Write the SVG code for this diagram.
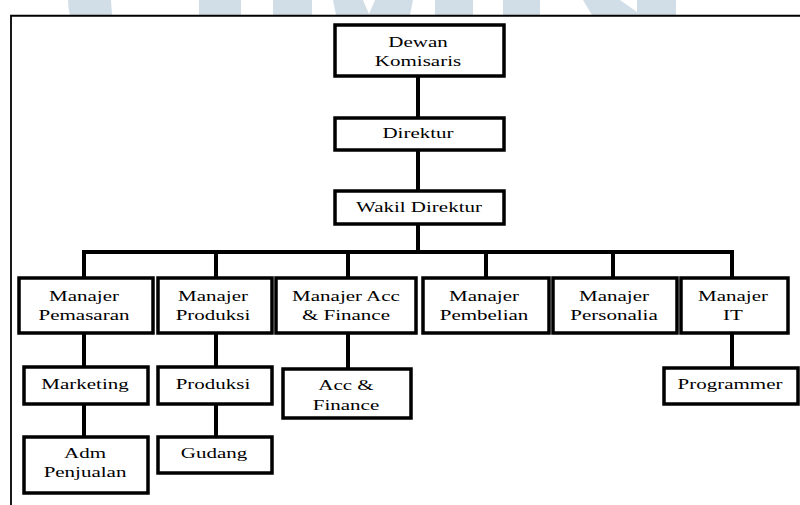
<svg xmlns="http://www.w3.org/2000/svg" width="800" height="505" viewBox="0 0 800 505">
<style>
.wm{fill:#d2dee7;stroke:none}
.box{fill:#ffffff;stroke:#000;stroke-width:3.5}
.t{font-size:15px;fill:#000;text-anchor:middle}
.con{stroke:#000;stroke-width:4;fill:none}
</style>
<rect x="0" y="0" width="800" height="505" fill="#ffffff"/>
<g id="watermark">
<path class="wm" d="M68,0 L111,0 L112,15 L70,15 Q68,8 68,0 Z"/>
<rect class="wm" x="199" y="0" width="42" height="15"/>
<rect class="wm" x="273" y="0" width="39" height="15"/>
<polygon class="wm" points="333,0 363,0 369,14 375,0 413,0 410,15 336,15"/>
<rect class="wm" x="435" y="0" width="38" height="15"/>
<rect class="wm" x="503" y="0" width="37" height="15"/>
<polygon class="wm" points="583,0 620,0 637,12 637,0 676,0 676,15 592,15"/>
</g>
<g id="frame">
<rect x="11" y="16" width="800" height="500" fill="#ffffff" stroke="none"/>
<path d="M11,505 L11,15.75 L800,15.75" fill="none" stroke="#000" stroke-width="1.8"/>
</g>
<g id="connectors">
<path class="con" d="M418,76 L418,118 M418,150 L418,191 M418,224 L418,252"/>
<path class="con" d="M84,252 L732,252 M84,250 L84,278 M216,250 L216,278 M348,250 L348,278 M486,250 L486,278 M613,250 L613,278 M732,250 L732,278"/>
<path class="con" d="M84,333 L84,367 M84,404 L84,437 M216,333 L216,367 M216,404 L216,437 M348,333 L348,369 M732,333 L732,368"/>
</g>
<g id="nodes" font-family="'Liberation Serif', 'DejaVu Serif', 'Times New Roman', serif">
<g id="dewan-komisaris">
<rect class="box" x="335" y="25" width="169" height="51"/>
<text class="t" transform="matrix(1.4 0 0 1 418 46.5)">Dewan</text>
<text class="t" transform="matrix(1.4 0 0 1 418 65.5)">Komisaris</text>
</g>
<g id="direktur">
<rect class="box" x="335" y="118" width="169" height="32"/>
<text class="t" transform="matrix(1.4 0 0 1 418 137.5)">Direktur</text>
</g>
<g id="wakil-direktur">
<rect class="box" x="335" y="191" width="169" height="33"/>
<text class="t" transform="matrix(1.4 0 0 1 419 211.5)">Wakil Direktur</text>
</g>
<g id="manajer-pemasaran">
<rect class="box" x="19" y="278" width="134" height="55"/>
<text class="t" transform="matrix(1.4 0 0 1 84 300.5)">Manajer</text>
<text class="t" transform="matrix(1.4 0 0 1 84 320)">Pemasaran</text>
</g>
<g id="manajer-produksi">
<rect class="box" x="158" y="278" width="114" height="55"/>
<text class="t" transform="matrix(1.4 0 0 1 213 300.5)">Manajer</text>
<text class="t" transform="matrix(1.4 0 0 1 213 320)">Produksi</text>
</g>
<g id="manajer-acc-finance">
<rect class="box" x="276" y="278" width="140" height="55"/>
<text class="t" transform="matrix(1.4 0 0 1 346 300.5)">Manajer Acc</text>
<text class="t" transform="matrix(1.4 0 0 1 346 320)">&amp; Finance</text>
</g>
<g id="manajer-pembelian">
<rect class="box" x="423" y="278" width="126" height="55"/>
<text class="t" transform="matrix(1.4 0 0 1 484 300.5)">Manajer</text>
<text class="t" transform="matrix(1.4 0 0 1 484 320)">Pembelian</text>
</g>
<g id="manajer-personalia">
<rect class="box" x="553" y="278" width="124" height="55"/>
<text class="t" transform="matrix(1.4 0 0 1 614 300.5)">Manajer</text>
<text class="t" transform="matrix(1.4 0 0 1 614 320)">Personalia</text>
</g>
<g id="manajer-it">
<rect class="box" x="681" y="278" width="107" height="55"/>
<text class="t" transform="matrix(1.4 0 0 1 733 300.5)">Manajer</text>
<text class="t" transform="matrix(1.4 0 0 1 733 320)">IT</text>
</g>
<g id="marketing">
<rect class="box" x="24" y="367" width="124" height="37"/>
<text class="t" transform="matrix(1.4 0 0 1 85 389)">Marketing</text>
</g>
<g id="adm-penjualan">
<rect class="box" x="24" y="437" width="124" height="56"/>
<text class="t" transform="matrix(1.4 0 0 1 85 457.5)">Adm</text>
<text class="t" transform="matrix(1.4 0 0 1 85 477)">Penjualan</text>
</g>
<g id="produksi">
<rect class="box" x="158" y="367" width="114" height="37"/>
<text class="t" transform="matrix(1.4 0 0 1 213 389)">Produksi</text>
</g>
<g id="gudang">
<rect class="box" x="158" y="437" width="114" height="36"/>
<text class="t" transform="matrix(1.4 0 0 1 214 457.5)">Gudang</text>
</g>
<g id="acc-finance">
<rect class="box" x="283" y="369" width="128" height="49"/>
<text class="t" transform="matrix(1.4 0 0 1 346 389.5)">Acc &amp;</text>
<text class="t" transform="matrix(1.4 0 0 1 346 409.5)">Finance</text>
</g>
<g id="programmer">
<rect class="box" x="664" y="368" width="134" height="36"/>
<text class="t" transform="matrix(1.4 0 0 1 730 389)">Programmer</text>
</g>
</g>
</svg>
